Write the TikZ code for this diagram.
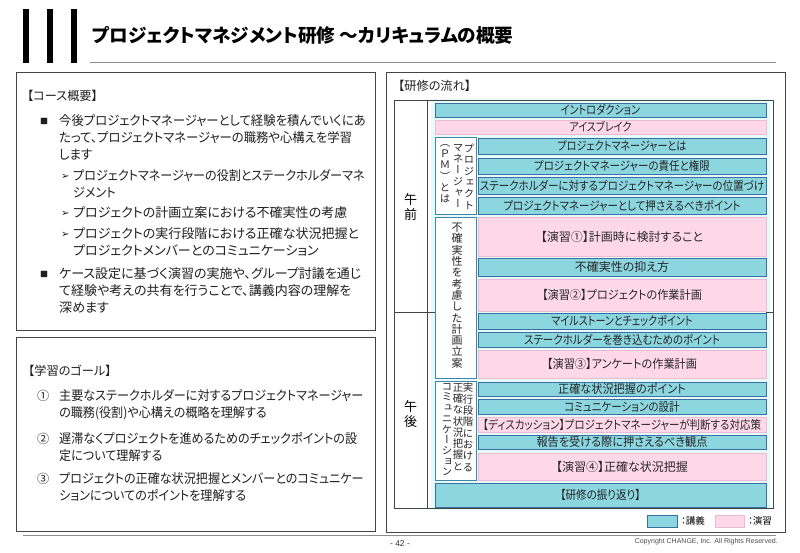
\documentclass[tikz,border=0pt]{standalone}
\usepackage{fontspec}
\setmainfont{Noto Sans CJK JP}[RawFeature=+palt]
\newfontfamily\vertjp{Noto Sans CJK JP}[RawFeature=+vert]
\newfontfamily\jpa{Noto Sans CJK JP}[RawFeature=+palt,FakeStretch=0.84]
\newfontfamily\jpb{Noto Sans CJK JP}[RawFeature=+palt,FakeStretch=0.875]
\newfontfamily\jpc{Noto Sans CJK JP}[RawFeature=+palt,FakeStretch=0.93]
\newfontfamily\jpd{Noto Sans CJK JP}[RawFeature=+palt,FakeStretch=0.95]
\newfontfamily\dejavu{DejaVu Sans}
\newfontfamily\arial{Liberation Sans}
\usetikzlibrary{positioning}
\definecolor{lectfill}{HTML}{8CD6E0}
\definecolor{lectline}{HTML}{3B6FA0}
\definecolor{drillfill}{HTML}{FFD8E8}
\definecolor{drillline}{HTML}{EDBBD0}
\definecolor{sideline}{HTML}{3F86A8}
\definecolor{halo}{HTML}{E6FBFD}
\definecolor{framegray}{HTML}{444444}
\definecolor{rulegray}{HTML}{8C8C8C}
\newcommand{\barsize}{\fontsize{12}{12}\selectfont}
\newcommand{\parasize}{\fontsize{13}{17}\selectfont}
\newcommand{\colsize}{\vertjp\fontsize{10.4}{11.3}\selectfont}
\tikzstyle{lect} = [rectangle,draw=lectline,line width=0.8pt,fill=lectfill,inner sep=0pt,outer sep=0pt,text=black!85]
\tikzstyle{drill} = [rectangle,draw=drillline,line width=0.6pt,fill=drillfill,inner sep=0pt,outer sep=0pt,text=black!85]
\tikzstyle{wide} = [minimum width=331pt]
\tikzstyle{narrow} = [minimum width=288pt]
\tikzstyle{sidebox} = [rectangle,draw=sideline,line width=0.8pt,fill=white,inner sep=0pt,outer sep=0pt,minimum width=41pt,anchor=north west]
\tikzstyle{vcol} = [align=center,inner sep=0pt,anchor=north,text=black!85]
\tikzstyle{frame} = [rectangle,draw=framegray,line width=1pt,fill=white,inner sep=0pt,outer sep=0pt,anchor=north west]
\tikzstyle{para} = [align=left,inner sep=0pt,anchor=north west,text=black!88]
\tikzstyle{heading} = [inner sep=0pt,anchor=west,text=black!88,font=\fontsize{12.2}{17}\selectfont]
\tikzstyle{square} = [inner sep=0pt,anchor=west,text=black!88,font=\fontsize{8}{10}\selectfont]
\tikzstyle{pointer} = [inner sep=0pt,anchor=west,text=black!88,font=\dejavu\fontsize{10}{10}\selectfont]
\begin{document}
\begin{tikzpicture}[x=1pt,y=-1pt,node distance=3pt]
\useasboundingbox (0,0) rectangle (800,553);
\fill[white] (0,0) rectangle (800,553);

\fill[black] (23,9) rectangle (29,63);
\fill[black] (47,9) rectangle (53,63);
\fill[black] (71,9) rectangle (77,63);
\node (title) [inner sep=0pt,anchor=west,font=\fontsize{18.6}{20}\selectfont\bfseries] at (92,35) {プロジェクトマネジメント研修 ～カリキュラムの概要};
\draw[rulegray,line width=1pt] (90,63)--(776,63);

\node (overview) [frame,minimum width=359pt,minimum height=257pt] at (16,73) {};
\node (goal) [frame,minimum width=359pt,minimum height=194pt] at (16,337) {};
\node (flow) [frame,minimum width=399pt,minimum height=459pt] at (386,73) {};

\node (overviewhead) [heading] at (27,96) {【コース概要】};
\node (mark1) [square] at (40,121) {■};
\node (text1) [para,font=\jpd\parasize] at (59,114) {今後プロジェクトマネージャーとして経験を積んでいくにあ\\たって、プロジェクトマネージャーの職務や心構えを学習\\します};
\node (arrow1) [pointer] at (61,177) {➢};
\node (text2) [para,font=\jpc\parasize] at (73,169) {プロジェクトマネージャーの役割とステークホルダーマネ\\ジメント};
\node (arrow2) [pointer] at (61,214) {➢};
\node (text3) [para,font=\parasize] at (73,206) {プロジェクトの計画立案における不確実性の考慮};
\node (arrow3) [pointer] at (61,235) {➢};
\node (text4) [para,font=\parasize] at (73,227) {プロジェクトの実行段階における正確な状況把握と\\プロジェクトメンバーとのコミュニケーション};
\node (mark2) [square] at (40,274) {■};
\node (text5) [para,font=\parasize] at (59,267) {ケース設定に基づく演習の実施や、グループ討議を通じ\\て経験や考えの共有を行うことで、講義内容の理解を\\深めます};

\node (goalhead) [heading] at (28,371) {【学習のゴール】};
\node (num1) [heading] at (37,396) {①};
\node (goal1) [para,font=\jpc\parasize] at (59,389) {主要なステークホルダーに対するプロジェクトマネージャー\\の職務(役割)や心構えの概略を理解する};
\node (num2) [heading] at (37,439) {②};
\node (goal2) [para,font=\jpc\parasize] at (59,432) {遅滞なくプロジェクトを進めるためのチェックポイントの設\\定について理解する};
\node (num3) [heading] at (37,479) {③};
\node (goal3) [para,font=\jpc\parasize] at (59,472) {プロジェクトの正確な状況把握とメンバーとのコミュニケー\\ションについてのポイントを理解する};

\node (flowhead) [heading] at (398,86) {【研修の流れ】};
\fill[halo] (431,99) rectangle (770,510);
\draw[framegray,line width=1pt] (394,101) rectangle (773,508);
\draw[framegray,line width=1pt] (427,101)--(427,508);
\draw[framegray,line width=1pt] (394,312)--(435,312);
\draw[framegray,line width=1pt] (766,312)--(773,312);
\node (am) [align=center,inner sep=0pt,font=\fontsize{13}{15}\selectfont] at (410.5,207) {午\\前};
\node (pm) [align=center,inner sep=0pt,font=\fontsize{13}{15}\selectfont] at (410.5,414) {午\\後};

\node (intro) [lect,wide,minimum height=14pt,anchor=north west,font=\jpa\barsize] at (435,103) {イントロダクション};
\node (ice) [drill,wide,minimum height=14pt,below=of intro,font=\jpa\barsize] {アイスブレイク};

\node (side1) [sidebox,minimum height=77pt] at (435,137) {};
\node (side1a) [vcol,font=\colsize] at (469,144) {プ\\ロ\\ジ\\ェ\\ク\\ト};
\node (side1b) [vcol,font=\colsize] at (458,144) {マ\\ネ\\ー\\ジ\\ャ\\ー};
\node (side1c) [vcol,font=\colsize] at (445,144) {（\\Ｐ\\Ｍ\\）\\と\\は};
\node (pm1) [lect,narrow,minimum height=16pt,anchor=north west,font=\jpa\barsize] at (478,138) {プロジェクトマネージャーとは};
\node (pm2) [lect,narrow,minimum height=16pt,below=4pt of pm1,font=\jpb\barsize] {プロジェクトマネージャーの責任と権限};
\node (pm3) [lect,narrow,minimum height=17pt,below=of pm2,font=\jpb\barsize] {ステークホルダーに対するプロジェクトマネージャーの位置づけ};
\node (pm4) [lect,narrow,minimum height=17pt,below=of pm3,font=\jpb\barsize] {プロジェクトマネージャーとして押さえるべきポイント};

\node (side2) [sidebox,minimum height=161pt] at (435,217) {};
\node (side2a) [vcol,font=\vertjp\fontsize{11}{11.3}\selectfont] at (457,223) {不\\確\\実\\性\\を\\考\\慮\\し\\た\\計\\画\\立\\案};
\node (ex1) [drill,narrow,minimum height=39pt,anchor=north west,font=\barsize] at (478,217) {【演習①】計画時に検討すること};
\node (unc) [lect,narrow,minimum height=18pt,below=2pt of ex1,font=\barsize] {不確実性の抑え方};
\node (ex2) [drill,narrow,minimum height=32pt,below=of unc,font=\jpc\barsize] {【演習②】プロジェクトの作業計画};
\node (mile) [lect,narrow,minimum height=16pt,below=2pt of ex2,font=\jpa\barsize] {マイルストーンとチェックポイント};
\node (stake) [lect,narrow,minimum height=15pt,below=of mile,font=\jpb\barsize] {ステークホルダーを巻き込むためのポイント};
\node (ex3) [drill,narrow,minimum height=28pt,below=of stake,font=\jpc\barsize] {【演習③】アンケートの作業計画};

\node (side3) [sidebox,minimum height=99pt] at (435,381) {};
\node (side3a) [vcol,font=\colsize] at (468,383) {実\\行\\段\\階\\に\\お\\け\\る};
\node (side3b) [vcol,font=\colsize] at (458,383) {正\\確\\な\\状\\況\\把\\握\\と};
\node (side3c) [vcol,font=\vertjp\fontsize{10.4}{10.7}\selectfont] at (447,383) {コ\\ミ\\ュ\\ニ\\ケ\\ー\\シ\\ョ\\ン};
\node (act1) [lect,narrow,minimum height=14pt,anchor=north west,font=\jpc\barsize] at (478,382) {正確な状況把握のポイント};
\node (act2) [lect,narrow,minimum height=15pt,below=of act1,font=\jpb\barsize] {コミュニケーションの設計};
\node (disc) [drill,narrow,minimum height=15pt,below=of act2,font=\jpb\barsize] {【ディスカッション】プロジェクトマネージャーが判断する対応策};
\node (act3) [lect,narrow,minimum height=14pt,below=of disc,font=\jpc\barsize] {報告を受ける際に押さえるべき観点};
\node (ex4) [drill,narrow,minimum height=27pt,below=4pt of act3,font=\barsize] {【演習④】正確な状況把握};
\node (close) [lect,wide,minimum height=24pt,anchor=north west,font=\jpb\barsize] at (435,483) {【研修の振り返り】};

\node (keylect) [lect,minimum width=30pt,minimum height=12pt,anchor=north west] at (647,515) {};
\node (keylecttext) [right=4pt of keylect,inner sep=0pt,font=\fontsize{9.5}{10}\selectfont] {：講義};
\node (keydrill) [drill,minimum width=29pt,minimum height=12pt,anchor=north west] at (715,515) {};
\node (keydrilltext) [right=4pt of keydrill,inner sep=0pt,font=\fontsize{9.5}{10}\selectfont] {：演習};

\draw[rulegray,line width=1pt] (23,535)--(776,535);
\node (page) [inner sep=0pt,text=black!80,font=\arial\fontsize{8.5}{10}\selectfont] at (400,544) {- 42 -};
\node (copy) [inner sep=0pt,anchor=east,text=black!70,font=\arial\fontsize{7}{8}\selectfont] at (778,542) {Copyright CHANGE, Inc. All Rights Reserved.};
\end{tikzpicture}
\end{document}
